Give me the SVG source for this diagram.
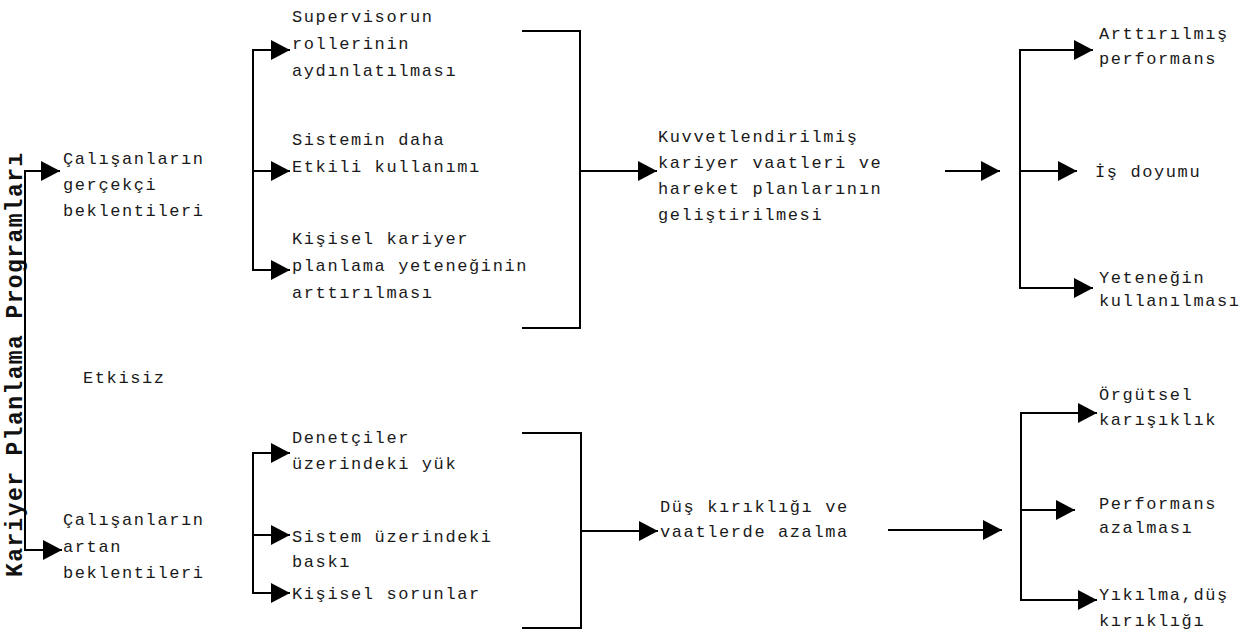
<svg xmlns="http://www.w3.org/2000/svg" width="1259" height="635" viewBox="0 0 1259 635">
  <style>
    .t { font-family: "Liberation Mono", "DejaVu Sans Mono", monospace; font-size: 17px; letter-spacing: 1.6px; fill: #1a1a1a; }
    .title { font-family: "Liberation Mono", "DejaVu Sans Mono", monospace; font-size: 23px; font-weight: bold; letter-spacing: 1.4px; fill: #111; }
    .ln { fill: none; stroke: #000; stroke-width: 2; }
    .arr { marker-end: url(#head); }
  </style>
  <defs>
    <marker id="head" viewBox="0 0 19 20" refX="19" refY="10" markerWidth="19" markerHeight="20" markerUnits="userSpaceOnUse" orient="auto">
      <path d="M0,0 L19,10 L0,20 Z" fill="#000"/>
    </marker>
  </defs>

  <rect width="1259" height="635" fill="#fff"/>

  <!-- vertical program title -->
  <g id="title">
    <text class="title" transform="translate(22,577) rotate(-90)">Kariyer Planlama Programları</text>
  </g>

  <!-- connectors -->
  <g id="connectors">
    <!-- program spine -->
    <path class="ln arr" d="M25,360 V171 H60"/>
    <path class="ln arr" d="M25,360 V550 H62"/>

    <!-- realistic expectations: three effects -->
    <path class="ln arr" d="M253,171 V50 H290"/>
    <path class="ln arr" d="M253,171 H290"/>
    <path class="ln arr" d="M253,171 V270 H290"/>

    <!-- upper bracket and outcome -->
    <path class="ln" d="M522,31 H580 V328 H522"/>
    <path class="ln arr" d="M580,171 H657"/>
    <path class="ln arr" d="M945,171 H1000"/>
    <path class="ln arr" d="M1020,171 V50 H1093"/>
    <path class="ln arr" d="M1020,171 H1077"/>
    <path class="ln arr" d="M1020,171 V288 H1093"/>

    <!-- rising expectations: three effects -->
    <path class="ln arr" d="M253,535 V453 H290"/>
    <path class="ln arr" d="M253,535 H290"/>
    <path class="ln arr" d="M253,535 V593 H290"/>

    <!-- lower bracket and outcome -->
    <path class="ln" d="M522,433 H581 V628 H522"/>
    <path class="ln arr" d="M581,531 H658"/>
    <path class="ln arr" d="M888,530 H1002"/>
    <path class="ln arr" d="M1021,510 V413 H1097"/>
    <path class="ln arr" d="M1021,510 H1075"/>
    <path class="ln arr" d="M1021,510 V600 H1097"/>
  </g>

  <!-- nodes -->
  <g id="n-gercekci">
    <text class="t" x="63" y="164">Çalışanların</text>
    <text class="t" x="63" y="190">gerçekçi</text>
    <text class="t" x="63" y="216">beklentileri</text>
  </g>
  <g id="n-etkisiz">
    <text class="t" x="83" y="383">Etkisiz</text>
  </g>
  <g id="n-artan">
    <text class="t" x="63" y="525">Çalışanların</text>
    <text class="t" x="63" y="552">artan</text>
    <text class="t" x="63" y="578">beklentileri</text>
  </g>

  <g id="n-supervisor">
    <text class="t" x="292" y="22">Supervisorun</text>
    <text class="t" x="292" y="49">rollerinin</text>
    <text class="t" x="292" y="76">aydınlatılması</text>
  </g>
  <g id="n-sistem-etkili">
    <text class="t" x="292" y="145">Sistemin daha</text>
    <text class="t" x="292" y="172">Etkili kullanımı</text>
  </g>
  <g id="n-kisisel-planlama">
    <text class="t" x="292" y="244">Kişisel kariyer</text>
    <text class="t" x="292" y="271">planlama yeteneğinin</text>
    <text class="t" x="292" y="298">arttırılması</text>
  </g>

  <g id="n-kuvvetlendirilmis">
    <text class="t" x="658" y="142">Kuvvetlendirilmiş</text>
    <text class="t" x="658" y="168">kariyer vaatleri ve</text>
    <text class="t" x="658" y="194">hareket planlarının</text>
    <text class="t" x="658" y="220">geliştirilmesi</text>
  </g>

  <g id="n-performans-artis">
    <text class="t" x="1099" y="39">Arttırılmış</text>
    <text class="t" x="1099" y="64">performans</text>
  </g>
  <g id="n-is-doyumu">
    <text class="t" x="1095" y="177">İş doyumu</text>
  </g>
  <g id="n-yetenek">
    <text class="t" x="1099" y="283">Yeteneğin</text>
    <text class="t" x="1099" y="306">kullanılması</text>
  </g>

  <g id="n-denetciler">
    <text class="t" x="292" y="443">Denetçiler</text>
    <text class="t" x="292" y="469">üzerindeki yük</text>
  </g>
  <g id="n-sistem-baski">
    <text class="t" x="292" y="542">Sistem üzerindeki</text>
    <text class="t" x="292" y="567">baskı</text>
  </g>
  <g id="n-kisisel-sorunlar">
    <text class="t" x="292" y="599">Kişisel sorunlar</text>
  </g>

  <g id="n-dus-kirikligi">
    <text class="t" x="660" y="512">Düş kırıklığı ve</text>
    <text class="t" x="660" y="537">vaatlerde azalma</text>
  </g>

  <g id="n-orgutsel">
    <text class="t" x="1099" y="400">Örgütsel</text>
    <text class="t" x="1099" y="425">karışıklık</text>
  </g>
  <g id="n-performans-azalma">
    <text class="t" x="1099" y="509">Performans</text>
    <text class="t" x="1099" y="533">azalması</text>
  </g>
  <g id="n-yikilma">
    <text class="t" x="1099" y="600">Yıkılma,düş</text>
    <text class="t" x="1099" y="626">kırıklığı</text>
  </g>
</svg>
